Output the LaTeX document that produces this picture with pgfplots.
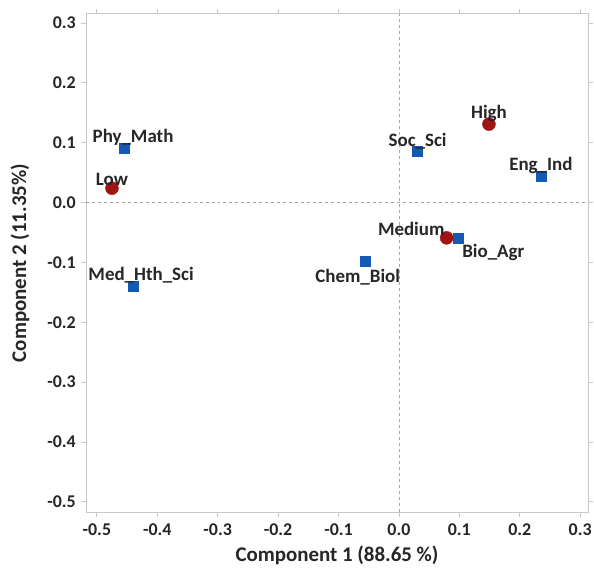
\documentclass[border=0pt]{standalone}
\usepackage{fontspec}
\setmainfont{Carlito}
\usepackage{pgfplots}
\pgfplotsset{compat=1.18}
\definecolor{ptblue}{RGB}{20,90,180}
\definecolor{ptred}{RGB}{160,20,20}
\definecolor{frame}{RGB}{200,200,200}
\begin{document}
\begin{tikzpicture}
\begin{axis}[
  scale only axis,
  width=502bp, height=498bp,
  xmin=-0.518, xmax=0.313,
  ymin=-0.517, ymax=0.315,
  xtick={-0.5,-0.4,...,0.3},
  ytick={-0.5,-0.4,...,0.3},
  xticklabel style={/pgf/number format/.cd,fixed,fixed zerofill,precision=1},
  yticklabel style={/pgf/number format/.cd,fixed,fixed zerofill,precision=1},
  /pgf/number format/assume math mode=true,
  ticklabel style={font=\fontsize{18}{20}\selectfont\bfseries, text=black!85, inner sep=0pt},
  xticklabel shift=7bp,
  yticklabel shift=5bp,
  tick align=outside,
  tick style={frame, line width=0.8pt},
  major tick length=5bp,
  axis line style={frame, line width=1pt},
  xlabel={Component 1 (88.65 \%)},
  ylabel={Component 2 (11.35\%)},
  label style={font=\fontsize{21}{24}\selectfont\bfseries, text=black!85},
  xlabel style={at={(axis description cs:0.5,-0.0863)}, anchor=center},
  ylabel style={at={(axis description cs:-0.1315,0.5)}, anchor=center},
  clip=false,
  nodes near coords,
  point meta=explicit symbolic,
  every node near coord/.append style={font=\fontsize{19}{21}\selectfont\bfseries, text=black!85, inner sep=2bp},
]
\draw[gray!70, dashed, line width=0.6pt] (axis cs:0,-0.517) -- (axis cs:0,0.315);
\draw[gray!70, dashed, line width=0.6pt] (axis cs:-0.518,0) -- (axis cs:0.313,0);
% fields (blue squares)
\addplot[only marks, mark=square*, mark size=5bp, color=ptblue,
  visualization depends on={value \thisrow{anchor}\as\myanchor},
  visualization depends on={value \thisrow{dx}\as\mydx},
  visualization depends on={value \thisrow{dy}\as\mydy},
  every node near coord/.append style={anchor=\myanchor, xshift=\mydx bp, yshift=\mydy bp}]
  table[meta=label, col sep=comma] {
x,y,label,anchor,dx,dy
-0.455,0.091,Phy\_Math,south,9,0
-0.440,-0.139,Med\_Hth\_Sci,south,8,0
-0.055,-0.098,Chem\_Biol,north,-8,-6
0.031,0.086,Soc\_Sci,south,0,0
0.235,0.044,Eng\_Ind,south,0,0
0.098,-0.059,Bio\_Agr,north west,2,-4
};
% levels (red circles)
\addplot[only marks, mark=*, mark size=6.5bp, color=ptred,
  visualization depends on={value \thisrow{anchor}\as\myanchor},
  every node near coord/.append style={anchor=\myanchor}]
  table[meta=label, col sep=comma] {
x,y,label,anchor
-0.475,0.024,Low,south
0.149,0.131,High,south
0.079,-0.059,Medium,south east
};
\end{axis}
\pgfresetboundingbox
\path[use as bounding box] ([shift={(-86bp,-56bp)}]current axis.south west) rectangle ([shift={(6bp,14bp)}]current axis.north east);
\end{tikzpicture}
\end{document}
